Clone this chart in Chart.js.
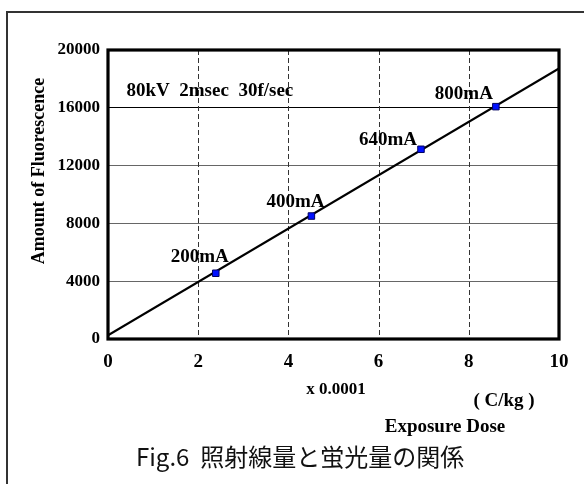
<!DOCTYPE html>
<html>
<head>
<meta charset="utf-8">
<script src="https://cdn.jsdelivr.net/npm/chart.js@4"></script>
<style>
  html, body { margin: 0; padding: 0; background: #fff; }
  #wrap { width: 584px; height: 484px; }
</style>
</head>
<body>
<div id="wrap"><canvas id="c" width="584" height="484"></canvas></div>
<script>
// ---- data ----
const currentLabels = ['200mA', '400mA', '640mA', '800mA'];
const doseX = [2.39, 4.51, 6.94, 8.60];          // x 0.0001 C/kg
const fluorY = [4550, 8510, 13130, 16080];        // amount of fluorescence
const fitX = [0, 10];
const fitY = [250, 18730];
const xTicks = [0, 2, 4, 6, 8, 10];
const yTicks = [0, 4000, 8000, 12000, 16000, 20000];
const conditionText = '80kV  2msec  30f/sec';
const xUnitText = 'x 0.0001';
const xUnitText2 = '( C/kg )';
const xTitle = 'Exposure Dose';
const yTitle = 'Amount of Fluorescence';
const caption = 'Fig.6  照射線量と蛍光量の関係';

// label offsets (pixels) of each point label centre from its point
const labelOffsets = [[-16, -16], [-16, -14], [-33, -9], [-32, -13]];

const serif = "'Liberation Serif', 'Times New Roman', serif";

const decorPlugin = {
  id: 'decor',
  beforeDraw(chart) {
    const ctx = chart.ctx;
    ctx.save();
    ctx.fillStyle = '#fff';
    ctx.fillRect(0, 0, chart.width, chart.height);
    // outer frame (left and top edges visible)
    ctx.strokeStyle = '#333';
    ctx.lineWidth = 2;
    ctx.beginPath();
    ctx.moveTo(7, chart.height + 2);
    ctx.lineTo(7, 12);
    ctx.lineTo(chart.width + 2, 12);
    ctx.stroke();
    ctx.restore();
  },
  beforeDatasetsDraw(chart) {
    const ctx = chart.ctx;
    const xs = chart.scales.x, ys = chart.scales.y;
    const a = chart.chartArea;
    ctx.save();
    // vertical dashed grid lines
    ctx.strokeStyle = '#333';
    ctx.lineWidth = 1;
    ctx.setLineDash([5, 3]);
    xTicks.forEach(v => {
      if (v === xTicks[0] || v === xTicks[xTicks.length - 1]) return;
      const px = Math.round(xs.getPixelForValue(v)) + 0.5;
      ctx.beginPath();
      ctx.moveTo(px, a.top);
      ctx.lineTo(px, a.bottom);
      ctx.stroke();
    });
    ctx.setLineDash([]);
    // texts inside plot
    ctx.fillStyle = '#000';
    ctx.font = 'bold 19px ' + serif;
    ctx.textAlign = 'left';
    ctx.textBaseline = 'middle';
    ctx.fillText(conditionText, a.left + 18.5, a.top + 41);
    ctx.textAlign = 'center';
    currentLabels.forEach((t, i) => {
      const px = xs.getPixelForValue(doseX[i]) + labelOffsets[i][0];
      const py = ys.getPixelForValue(fluorY[i]) + labelOffsets[i][1];
      ctx.fillText(t, px, py);
    });
    ctx.restore();
  },
  afterDraw(chart) {
    const ctx = chart.ctx;
    const a = chart.chartArea;
    ctx.save();
    // heavy plot frame
    ctx.strokeStyle = '#000';
    ctx.lineWidth = 3.2;
    ctx.strokeRect(a.left, a.top, a.right - a.left, a.bottom - a.top);
    // axis texts
    ctx.fillStyle = '#000';
    ctx.textBaseline = 'middle';
    ctx.textAlign = 'center';
    ctx.font = 'bold 17px ' + serif;
    ctx.fillText(xUnitText, 336, 390);
    ctx.font = 'bold 19px ' + serif;
    ctx.fillText(xUnitText2, 504, 401);
    ctx.fillText(xTitle, 445, 427.5);
    // y title
    ctx.save();
    ctx.translate(39, 171);
    ctx.rotate(-Math.PI / 2);
    ctx.font = 'bold 18px ' + serif;
    ctx.fillText(yTitle, 0, 0);
    ctx.restore();
    // caption
    ctx.font = "24px 'Noto Sans CJK JP', 'Noto Sans', sans-serif";
    ctx.textAlign = 'left';
    ctx.fillStyle = '#111';
    ctx.fillText(caption, 136, 456.5);
    ctx.restore();
  }
};

new Chart(document.getElementById('c'), {
  type: 'scatter',
  data: {
    datasets: [
      {
        label: 'fit',
        type: 'line',
        data: fitX.map((x, i) => ({ x, y: fitY[i] })),
        borderColor: '#000',
        borderWidth: 2.2,
        pointRadius: 0,
        fill: false,
        tension: 0,
        order: 2
      },
      {
        label: 'measured',
        data: doseX.map((x, i) => ({ x, y: fluorY[i] })),
        pointStyle: 'rect',
        pointRadius: 4.6,
        pointBackgroundColor: '#0010ff',
        pointBorderColor: '#000060',
        pointBorderWidth: 1,
        order: 1
      }
    ]
  },
  options: {
    responsive: false,
    animation: false,
    devicePixelRatio: 1,
    layout: { padding: { left: 0, right: 25, top: 50, bottom: 105 } },
    plugins: {
      legend: { display: false },
      tooltip: { enabled: false },
      title: { display: false }
    },
    scales: {
      x: {
        type: 'linear',
        min: xTicks[0],
        max: xTicks[xTicks.length - 1],
        afterFit(s) { s.height = 40; },
        afterBuildTicks(s) { s.ticks = xTicks.map(v => ({ value: v })); },
        ticks: {
          padding: 12,
          color: '#000',
          font: { family: serif, size: 19, weight: 'bold' },
          maxRotation: 0,
          autoSkip: false,
          callback: v => String(v)
        },
        grid: { display: false, drawTicks: false },
        border: { display: false }
      },
      y: {
        type: 'linear',
        min: yTicks[0],
        max: yTicks[yTicks.length - 1],
        afterFit(s) { s.width = 108; },
        afterBuildTicks(s) { s.ticks = yTicks.map(v => ({ value: v })); },
        ticks: {
          padding: 8,
          color: '#000',
          font: { family: serif, size: 17, weight: 'bold' },
          autoSkip: false,
          callback: v => String(v)
        },
        grid: {
          drawTicks: false,
          lineWidth: 1,
          color: c => {
            const v = c.tick ? c.tick.value : null;
            if (v === yTicks[0] || v === yTicks[yTicks.length - 1]) return 'rgba(0,0,0,0)';
            if (v === 16000) return '#000';
            return '#666';
          }
        },
        border: { display: false }
      }
    }
  },
  plugins: [decorPlugin]
});
</script>
</body>
</html>
